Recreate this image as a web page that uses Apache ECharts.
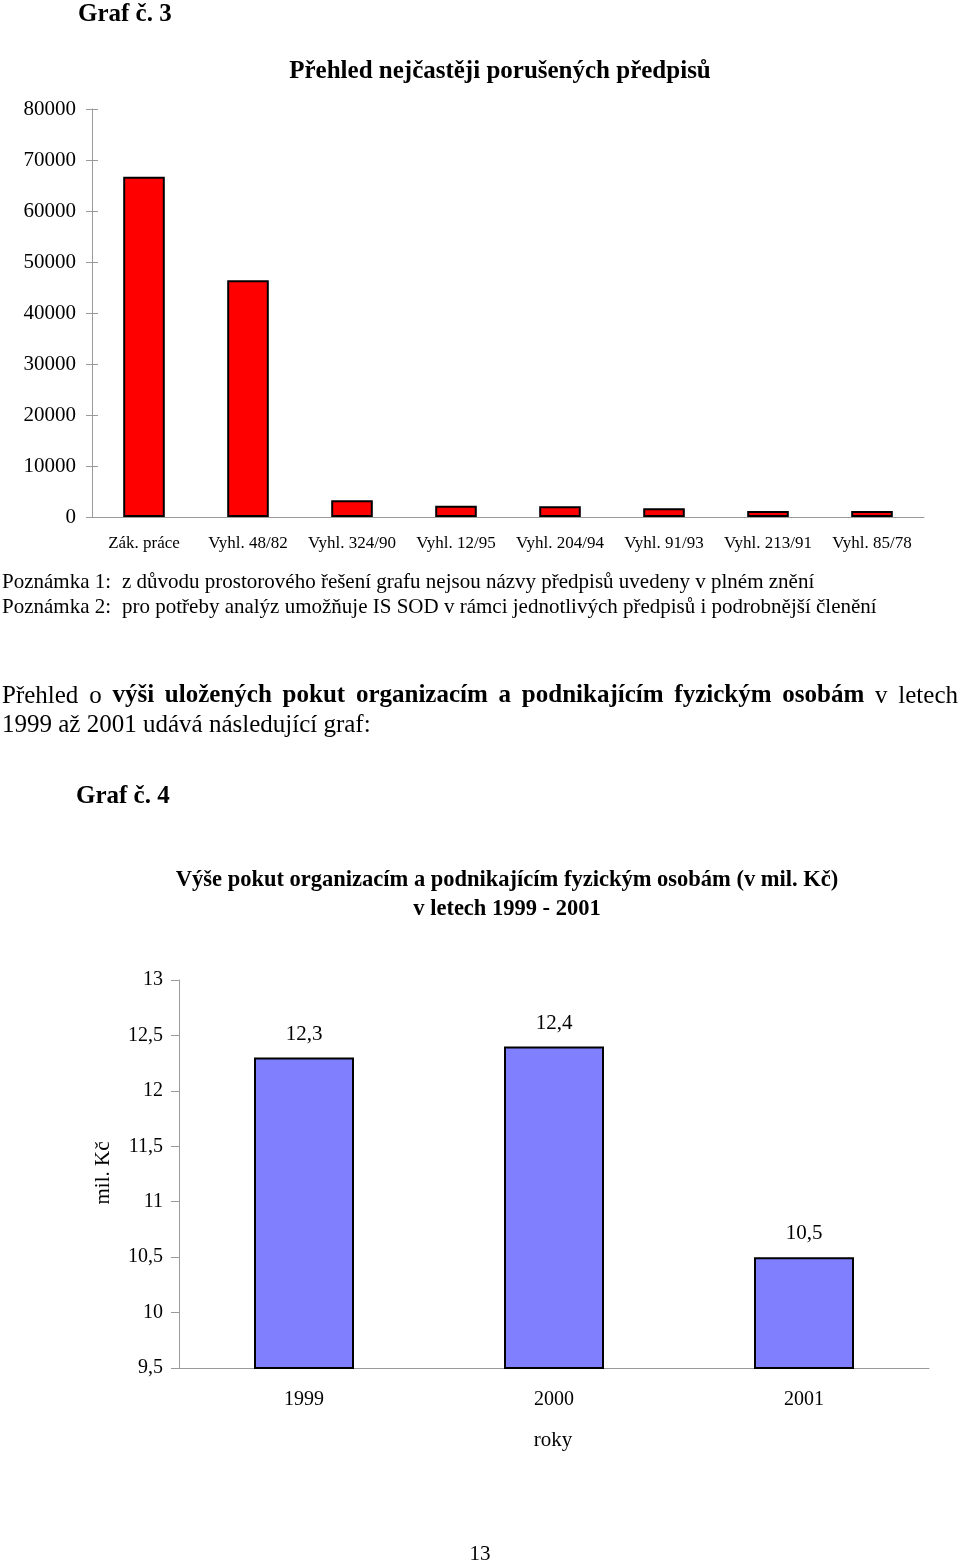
<!DOCTYPE html>
<html><head><meta charset="utf-8">
<script src="https://cdn.jsdelivr.net/npm/echarts@6/dist/echarts.min.js"></script>
<style>html,body{margin:0;padding:0;background:#fff}#c{width:960px;height:1564px}</style>
</head><body><div id="c"></div>
<script>
const cat1 = ['Zák. práce','Vyhl. 48/82','Vyhl. 324/90','Vyhl. 12/95','Vyhl. 204/94','Vyhl. 91/93','Vyhl. 213/91','Vyhl. 85/78'];
const val1 = [66700, 46400, 3300, 2200, 2100, 1700, 1200, 1200];
const cat2 = ['1999','2000','2001'];
const val2 = [12.3, 12.4, 10.5];

const FF = '"Liberation Serif", "Times New Roman", serif';
const comma = v => String(v).replace('.', ',');
const axisGray = '#9a9a9a';

const mctx = document.createElement('canvas').getContext('2d');
function measure(s, size, bold) {
  mctx.font = (bold ? 'bold ' : '') + size + 'px ' + FF;
  return mctx.measureText(s).width;
}
function txt(x, y, s, size, bold, align) {
  return {type:'text', x:x, y:y,
    style:{text:s, fontFamily:FF, fontSize:size, fontWeight:bold?'bold':'normal', fill:'#000',
           textAlign:align||'left', textVerticalAlign:'middle'}};
}
// justified first line of the paragraph
function justifiedLine(words, x0, x1, y, size) {
  const widths = words.map(w => measure(w[0], size, w[1]));
  const total = widths.reduce((a,b)=>a+b, 0);
  const gap = (x1 - x0 - total) / (words.length - 1);
  const out = [];
  let x = x0;
  words.forEach((w, i) => { out.push(txt(x, y, w[0], size, w[1])); x += widths[i] + gap; });
  return out;
}
const paraWords = [['Přehled',0],['o',0],['výši',1],['uložených',1],['pokut',1],['organizacím',1],['a',1],
  ['podnikajícím',1],['fyzickým',1],['osobám',1],['v',0],['letech',0]];

const chart = echarts.init(document.getElementById('c'), null, {renderer:'canvas'});

chart.setOption({
  animation:false,
  backgroundColor:'#fff',
  grid:[
    {left:92, right:36, top:109, bottom:1047},
    {left:179, right:31, top:980, bottom:196}
  ],
  xAxis:[
    {gridIndex:0, type:'category', data:cat1,
     axisLine:{lineStyle:{color:axisGray}}, axisTick:{length:6, lineStyle:{color:axisGray}},
     axisLabel:{color:'#000', fontFamily:FF, fontSize:17, margin:18, interval:0}},
    {gridIndex:1, type:'category', data:cat2,
     axisLine:{lineStyle:{color:axisGray}}, axisTick:{length:7, lineStyle:{color:axisGray}},
     axisLabel:{color:'#000', fontFamily:FF, fontSize:20, margin:22, interval:0}},
    {gridIndex:0, type:'category', data:cat1, position:'bottom',
     axisLine:{show:false}, axisTick:{inside:true, length:5, lineStyle:{color:axisGray}},
     axisLabel:{show:false}}
  ],
  yAxis:[
    {gridIndex:0, type:'value', min:0, max:80000, interval:10000,
     axisLine:{show:true, lineStyle:{color:axisGray}}, axisTick:{show:true, length:6, lineStyle:{color:axisGray}},
     splitLine:{show:false},
     axisLabel:{color:'#000', fontFamily:FF, fontSize:21, margin:16, formatter:v => String(v)}},
    {gridIndex:1, type:'value', min:9.5, max:13, interval:0.5,
     axisLine:{show:true, lineStyle:{color:axisGray}}, axisTick:{show:true, length:8, lineStyle:{color:axisGray}},
     splitLine:{show:false},
     axisLabel:{color:'#000', fontFamily:FF, fontSize:20, margin:16, formatter:comma}},
    {gridIndex:0, type:'value', min:0, max:80000, interval:10000, position:'left',
     axisLine:{show:false}, axisTick:{show:true, inside:true, length:6, lineStyle:{color:axisGray}},
     splitLine:{show:false}, axisLabel:{show:false}}
  ],
  series:[
    {type:'bar', xAxisIndex:0, yAxisIndex:0, data:val1, barWidth:'40%',
     itemStyle:{color:'#ff0000', borderColor:'#000', borderWidth:2}},
    {type:'bar', xAxisIndex:1, yAxisIndex:1, data:val2, barWidth:'40%',
     itemStyle:{color:'#8080ff', borderColor:'#000', borderWidth:2},
     label:{show:true, position:'top', distance:13, color:'#000', fontFamily:FF, fontSize:21,
            formatter:p => comma(p.value)}}
  ],
  graphic:[
    txt(78, 15, 'Graf č. 3', 25, true),
    txt(500, 72, 'Přehled nejčastěji porušených předpisů', 25, true, 'center'),
    txt(2, 582, 'Poznámka 1:', 21, false),
    txt(122, 582, 'z důvodu prostorového řešení grafu nejsou názvy předpisů uvedeny v plném znění', 21, false),
    txt(2, 607, 'Poznámka 2:', 21, false),
    txt(122, 607, 'pro potřeby analýz umožňuje IS SOD v rámci jednotlivých předpisů i podrobnější členění', 21, false),
    ...justifiedLine(paraWords, 2, 958, 696, 25),
    txt(2, 725, '1999 až 2001 udává následující graf:', 25, false),
    txt(76, 797, 'Graf č. 4', 25, true),
    txt(507, 880, 'Výše pokut organizacím a podnikajícím fyzickým osobám (v mil. Kč)', 22.5, true, 'center'),
    txt(507, 909, 'v letech 1999 - 2001', 22.5, true, 'center'),
    {type:'text', x:103, y:1173, rotation:Math.PI/2,
     style:{text:'mil. Kč', fontFamily:FF, fontSize:21, fill:'#000', textAlign:'center', textVerticalAlign:'middle'}},
    txt(553, 1440, 'roky', 21, false, 'center'),
    txt(480, 1554, '13', 21, false, 'center')
  ]
});
</script></body></html>
